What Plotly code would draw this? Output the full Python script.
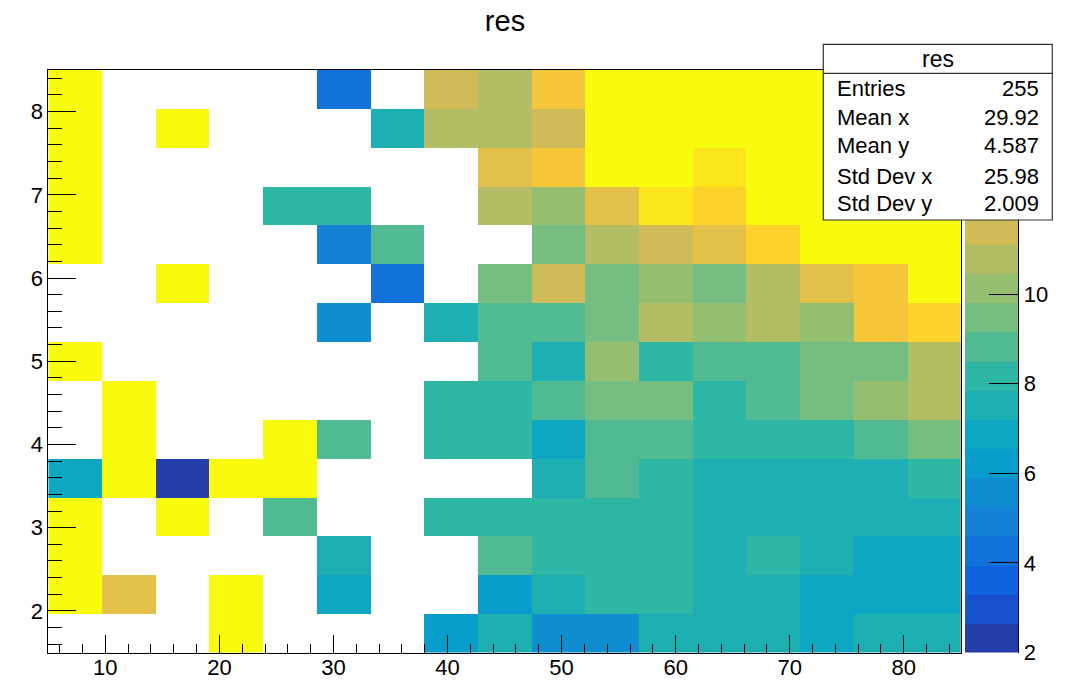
import numpy as np
import plotly.graph_objects as go

# ---------------- data ----------------
x_range = [5, 85]
n_xbins = 17
y_range = [1.5, 8.5]
n_ybins = 15
z_range = [2, 15]
n_contours = 20
palette_ticks = [2, 4, 6, 8, 10]

Y = 16.0  # bins above the palette maximum (drawn in top colour)
N = None  # empty bins
# rows listed from top (y ~ 8.27) to bottom (y ~ 1.73); 17 columns each
z_rows_top_down = [
    [Y, N, N, N, N, 4.3, N, 11.4, 10.8, 12.7, Y, Y, Y, Y, Y, Y, Y],
    [Y, N, Y, N, N, N, 7.5, 10.8, 10.8, 11.4, Y, Y, Y, Y, Y, Y, Y],
    [Y, N, N, N, N, N, N, N, 12.1, 12.7, Y, Y, 14.0, Y, Y, Y, Y],
    [Y, N, N, N, 8.2, 8.2, N, N, 10.8, 10.1, 12.1, 14.0, 13.4, Y, Y, Y, Y],
    [Y, N, N, N, N, 4.9, 8.8, N, N, 9.5, 10.8, 11.4, 12.1, 13.4, Y, Y, Y],
    [N, N, Y, N, N, N, 4.3, N, 9.5, 11.4, 9.5, 10.1, 9.5, 10.8, 12.1, 12.7, Y],
    [N, N, N, N, N, 5.6, N, 7.5, 8.8, 8.8, 9.5, 10.8, 10.1, 10.8, 10.1, 12.7, 13.4],
    [Y, N, N, N, N, N, N, N, 8.8, 7.5, 10.1, 8.2, 8.8, 8.8, 9.5, 9.5, 10.8],
    [N, Y, N, N, N, N, N, 8.2, 8.2, 8.8, 9.5, 9.5, 8.2, 8.8, 9.5, 10.1, 10.8],
    [N, Y, N, N, Y, 8.8, N, 8.2, 8.2, 6.9, 8.8, 8.8, 8.2, 8.2, 8.2, 8.8, 9.5],
    [6.9, Y, 2.3, Y, Y, N, N, N, N, 7.5, 8.8, 8.2, 7.5, 7.5, 7.5, 7.5, 8.2],
    [Y, N, Y, N, 8.8, N, N, 8.2, 8.2, 8.2, 8.2, 8.2, 7.5, 7.5, 7.5, 7.5, 7.5],
    [Y, N, N, N, N, 7.5, N, N, 8.8, 8.2, 8.2, 8.2, 7.5, 8.2, 7.5, 6.9, 6.9],
    [Y, 12.1, N, Y, N, 6.9, N, N, 6.2, 7.5, 8.2, 8.2, 7.5, 7.5, 6.9, 6.9, 6.9],
    [N, N, N, Y, N, N, N, 6.2, 7.5, 5.6, 5.6, 7.5, 7.5, 7.5, 6.9, 7.5, 7.5],
]

title_text = "res"
stats_labels = ["Entries", "Mean x", "Mean y", "Std Dev x", "Std Dev y"]
stats_values = ["255", "29.92", "4.587", "25.98", "2.009"]

# ROOT kBird palette stops
bird_stops = [0.0, 0.125, 0.25, 0.375, 0.5, 0.625, 0.75, 0.875, 1.0]
bird_r = [0.2082, 0.0592, 0.0780, 0.0232, 0.1802, 0.5301, 0.8186, 0.9956, 0.9764]
bird_g = [0.1664, 0.3599, 0.5041, 0.6419, 0.7178, 0.7492, 0.7328, 0.7862, 0.9832]
bird_b = [0.5293, 0.8684, 0.8385, 0.7914, 0.6425, 0.4662, 0.3499, 0.1968, 0.0539]

# ---------------- derived ----------------
x_edges = np.linspace(x_range[0], x_range[1], n_xbins + 1)
y_edges = np.linspace(y_range[0], y_range[1], n_ybins + 1)
z_grid = np.array([[np.nan if v is None else v for v in row] for row in z_rows_top_down[::-1]], dtype=float)


def bird(f):
    r = np.interp(f, bird_stops, bird_r)
    g = np.interp(f, bird_stops, bird_g)
    b = np.interp(f, bird_stops, bird_b)
    return "rgb(%d,%d,%d)" % (round(r * 255), round(g * 255), round(b * 255))


band_colors = [bird(min(1.0, (k + 0.99) / n_contours)) for k in range(n_contours)]
colorscale = []
for k, c in enumerate(band_colors):
    colorscale.append([k / n_contours, c])
    colorscale.append([(k + 1) / n_contours, c])

z_band_edges = np.linspace(z_range[0], z_range[1], n_contours + 1)
z_band_centers = 0.5 * (z_band_edges[:-1] + z_band_edges[1:])

W, H = 1071, 680
px_x = lambda p: p / W
px_y = lambda p: 1 - p / H

FONT = "Liberation Sans, Arial, Helvetica, sans-serif"

fig = go.Figure()
fig.add_trace(go.Heatmap(
    x=x_edges, y=y_edges, z=z_grid,
    colorscale=colorscale, zmin=z_range[0], zmax=z_range[1],
    showscale=False, hoverongaps=False, xaxis="x", yaxis="y",
))
fig.add_trace(go.Heatmap(
    x=[0, 1], y=z_band_edges, z=[[v] for v in z_band_centers],
    colorscale=colorscale, zmin=z_range[0], zmax=z_range[1],
    showscale=False, xaxis="x2", yaxis="y2",
))

axis_common = dict(
    automargin=False,
    showgrid=False, zeroline=False, showline=True, linecolor="black", linewidth=1,
    ticks="inside", tickcolor="black", tickwidth=1,
    tickfont=dict(family=FONT, size=22, color="black"),
)

fig.update_layout(
    width=W, height=H,
    margin=dict(l=0, r=0, t=0, b=0, autoexpand=False),
    paper_bgcolor="white", plot_bgcolor="white",
    showlegend=False,
    title=dict(text=title_text, x=px_x(505), y=px_y(21), xanchor="center", yanchor="middle",
               font=dict(family=FONT, size=29, color="black")),
    xaxis=dict(domain=[px_x(48.3), px_x(960.8)], range=x_range, tick0=0, dtick=10,
               ticklen=18, mirror=True, ticklabelstandoff=-5,
               minor=dict(dtick=2, ticks="inside", ticklen=9, tickcolor="black", tickwidth=1),
               **axis_common),
    yaxis=dict(domain=[px_y(652.5), px_y(70)], range=y_range, tick0=0, dtick=1,
               ticklen=28, mirror=True,
               minor=dict(dtick=0.2, ticks="inside", ticklen=14, tickcolor="black", tickwidth=1),
               **axis_common),
    xaxis2=dict(automargin=False, domain=[px_x(965), px_x(1018.3)], range=[0, 1], anchor="y2",
                showgrid=False, zeroline=False, showline=False, showticklabels=False, ticks=""),
    yaxis2=dict(domain=[px_y(652.5), px_y(70)], range=z_range, anchor="x2", side="right",
                tickmode="array", tickvals=palette_ticks, ticklen=29, **axis_common),
)

# stats box
bx0, bx1, by0, by1, bsep = 823.3, 1052.3, 44.3, 220.0, 73.3
fig.add_shape(type="rect", xref="paper", yref="paper",
              x0=px_x(bx0), x1=px_x(bx1), y0=px_y(by1), y1=px_y(by0),
              fillcolor="white", line=dict(color="#333333", width=1.2), layer="above")
fig.add_shape(type="line", xref="paper", yref="paper",
              x0=px_x(bx0), x1=px_x(bx1), y0=px_y(bsep), y1=px_y(bsep),
              line=dict(color="#333333", width=1.2), layer="above")
fig.add_annotation(text=title_text, xref="paper", yref="paper", x=px_x(938), y=px_y(58.5),
                   xanchor="center", yanchor="middle", showarrow=False,
                   font=dict(family=FONT, size=23, color="black"))
row_y = [88.5, 117.5, 145, 177, 203.5]
for lab, val, yy in zip(stats_labels, stats_values, row_y):
    fig.add_annotation(text=lab, xref="paper", yref="paper", x=px_x(835), y=px_y(yy),
                       xanchor="left", yanchor="middle", showarrow=False,
                       font=dict(family=FONT, size=22, color="black"))
    fig.add_annotation(text=val, xref="paper", yref="paper", x=px_x(1041), y=px_y(yy),
                       xanchor="right", yanchor="middle", showarrow=False,
                       font=dict(family=FONT, size=22, color="black"))

fig.write_html("out.html", config={"displayModeBar": False},
               post_script="document.body.style.margin='0px';document.body.style.overflow='hidden';")
